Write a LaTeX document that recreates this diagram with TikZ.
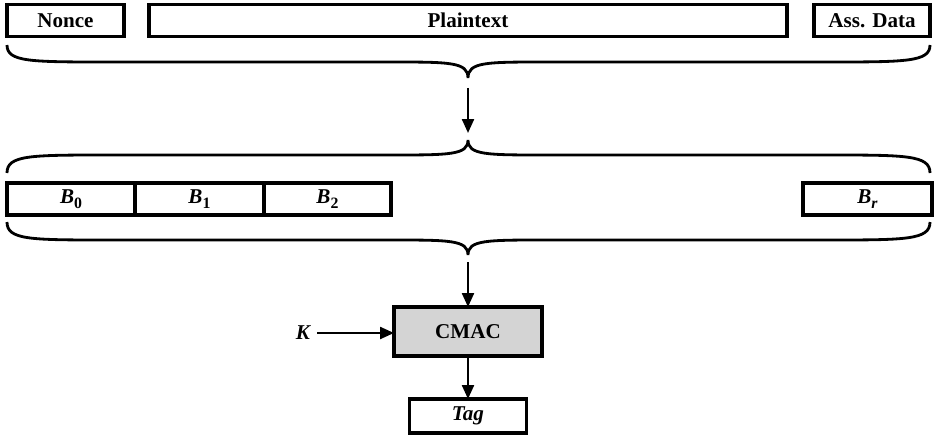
\documentclass[tikz,border=0pt]{standalone}
\usepackage{fontspec}
\setmainfont{Liberation Serif}
\usetikzlibrary{positioning,arrows.meta}

% bold italic block label with a bold subscript
\newcommand{\blk}[1]{\textbf{\textit{B}}\raisebox{-0.5ex}{\small\textbf{#1}}}
% curly brace over the full width: end y, bar y, tip y (in pixels)
\newcommand{\curly}[3]{%
  \draw[brace] (7,#1) .. controls (7,#2) and (30,#2) .. (110,#2) -- (390,#2)
    .. controls (450,#2) and (468,#2) .. (468,#3)
    .. controls (468,#2) and (486,#2) .. (546,#2) -- (826,#2)
    .. controls (906,#2) and (930,#2) .. (930,#1);}

\tikzset{
  field/.style={draw, line width=1.8pt, outer sep=0pt, inner sep=0pt,
    minimum height=0.64cm, font=\bfseries},
  brace/.style={line width=1.6pt},
  arr/.style={line width=1.3pt, -{Triangle[length=2.8mm,width=2.4mm]}},
}

\begin{document}
\fontsize{12}{14}\selectfont
\begin{tikzpicture}[x=0.02cm, y=-0.02cm]
  \useasboundingbox (0,0) rectangle (937,436);

  % input fields
  \node[field, minimum width=2.34cm] (nonce) at (65.5,20.5) {Nonce};
  \node[field, minimum width=12.76cm] (plain) at (468,20.5) {Plaintext};
  \node[field, minimum width=2.32cm] (adata) at (872,20.5) {Ass. Data};

  \curly{45}{62}{78}
  \coordinate (tip1) at (468,78);
  \curly{173}{155}{140}
  \coordinate (tip2) at (468,140);
  \draw[arr, shorten <=2mm, shorten >=1.4mm] (tip1) -- (tip2);

  % formatted blocks
  \node[field, minimum width=2.56cm, font=\normalfont] (b0) at (71,199) {\blk{0}};
  \node[field, minimum width=2.58cm, font=\normalfont, right=0pt of b0] (b1) {\blk{1}};
  \node[field, minimum width=2.54cm, font=\normalfont, right=0pt of b1] (b2) {\blk{2}};
  \node[field, minimum width=2.58cm, font=\normalfont] (br) at (867.5,199)
    {\textbf{\textit{B}}\raisebox{-0.5ex}{\small\textbf{\textit{r}}}};

  \curly{222}{240}{255}
  \coordinate (tip3) at (468,255);

  % MAC computation
  \node[field, minimum width=2.96cm, minimum height=0.98cm, fill=black!17] (cmac) at (468,331.5) {CMAC};
  \node[font=\bfseries\itshape] (key) at (303,333) {K};
  \node[field, minimum width=2.34cm, minimum height=0.68cm, font=\bfseries\itshape] (tag) at (468,416) {Tag};

  \draw[arr, shorten <=1.4mm] (tip3) -- (cmac);
  \draw[arr] (key) -- (key -| cmac.west);
  \draw[arr] (cmac) -- (tag);
\end{tikzpicture}
\end{document}
